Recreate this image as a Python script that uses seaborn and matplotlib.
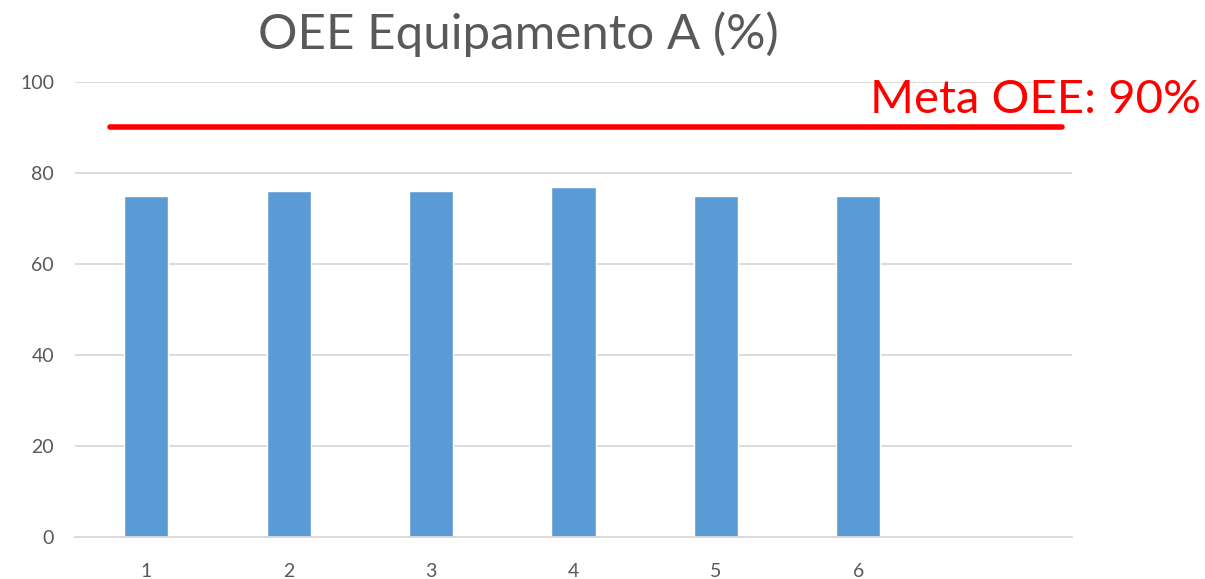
import pandas as pd
import matplotlib.pyplot as plt
import seaborn as sns

sns.set_theme(style="white")
plt.rcParams["font.family"] = ["Lato", "DejaVu Sans"]

## DATA
periods = ["1", "2", "3", "4", "5", "6"]
oee = [75, 76, 76, 77, 75, 75]
target = 90
title = "OEE Equipamento A (%)"
target_label = "Meta OEE: 90%"

df = pd.DataFrame({"period": periods, "oee": oee})

## PLOT
fig = plt.figure(figsize=(12.05, 5.79), dpi=100)
ax = fig.add_axes([0.0622, 0.0725, 0.8274, 0.7859])

sns.barplot(data=df, x="period", y="oee", color="#5B9BD5", width=0.31,
            saturation=1, ax=ax)

ax.set_xlim(-0.5, 6.5)
ax.set_ylim(0, 100)
ax.set_yticks([0, 20, 40, 60, 80, 100])
ax.yaxis.grid(True, color="#D9D9D9", lw=1.3)
ax.set_axisbelow(True)
for side in ["top", "right", "left"]:
    ax.spines[side].set_visible(False)
ax.spines["bottom"].set_color("#D9D9D9")
ax.spines["bottom"].set_linewidth(1.3)
ax.tick_params(axis="both", length=0, labelsize=14, colors="#595959")
ax.tick_params(axis="x", pad=19)
ax.tick_params(axis="y", pad=15)
ax.set_xlabel("")
ax.set_ylabel("")

ax.axhline(target, xmin=0.035, xmax=0.99, color="#FF0000", lw=4)

fig.text(0.43, 0.915, title, ha="center", va="baseline", fontsize=35.5, color="#595959")
fig.text(0.722, 0.805, target_label, ha="left", va="baseline", fontsize=34, color="#FF0000")

fig.savefig("out.png", dpi=100)
